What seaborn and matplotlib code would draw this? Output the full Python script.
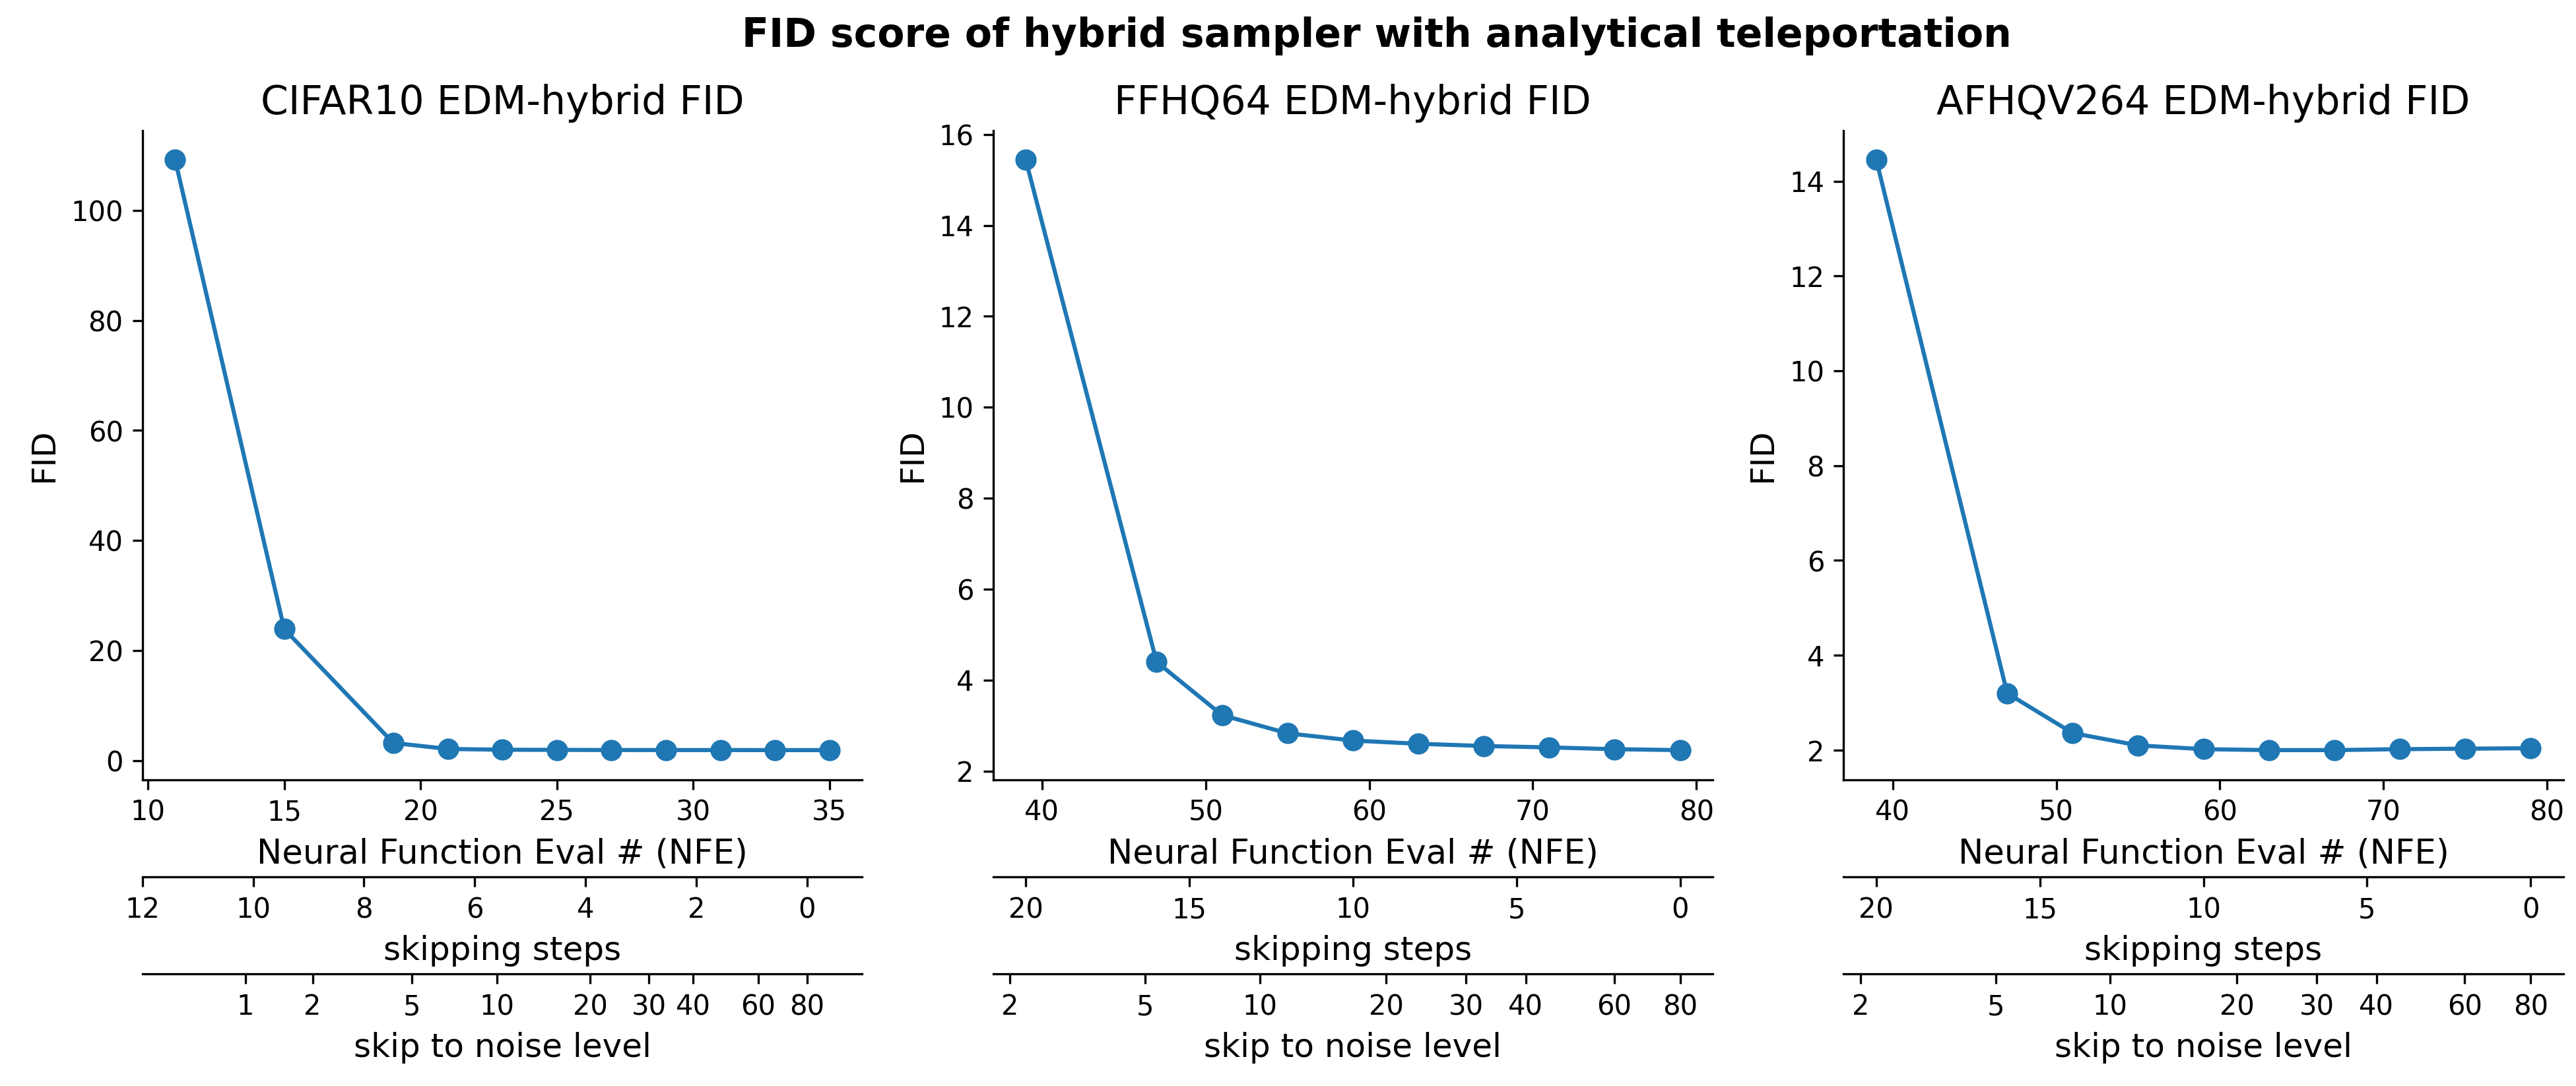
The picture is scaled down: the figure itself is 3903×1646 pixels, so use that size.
import numpy as np
import pandas as pd
import matplotlib
matplotlib.use('Agg')
import matplotlib.pyplot as plt
import seaborn as sns

# FID vs NFE
cifar_nfe = [11, 15, 19, 21, 23, 25, 27, 29, 31, 33, 35]
cifar_fid = [109.2, 23.9, 3.2, 2.1, 1.96, 1.93, 1.91, 1.90, 1.90, 1.89, 1.89]

ffhq_nfe = [39, 47, 51, 55, 59, 63, 67, 71, 75, 79]
ffhq_fid = [15.44, 4.40, 3.23, 2.83, 2.67, 2.60, 2.55, 2.52, 2.48, 2.46]

afhq_nfe = [39, 47, 51, 55, 59, 63, 67, 71, 75, 79]
afhq_fid = [14.45, 3.20, 2.36, 2.10, 2.02, 2.00, 2.00, 2.02, 2.03, 2.04]

titles = ['CIFAR10 EDM-hybrid FID', 'FFHQ64 EDM-hybrid FID', 'AFHQV264 EDM-hybrid FID']
n_steps = [18, 40, 40]               # EDM sampler steps per dataset
skip_lims = [(12, -1), (21, -1), (21, -1)]
skip_ticks = [list(range(12, -1, -2)), list(range(20, -1, -5)), list(range(20, -1, -5))]
noise_ticks = [1, 2, 5, 10, 20, 30, 40, 60, 80]

SIGMA_MIN, SIGMA_MAX, RHO = 0.002, 80.0, 7.0


def sigma_at(step, n):
    a = SIGMA_MAX ** (1 / RHO)
    b = SIGMA_MIN ** (1 / RHO)
    return (a + step / (n - 1) * (b - a)) ** RHO


def fwd(s):
    s = np.asarray(s, dtype=float)
    return np.sign(s) * np.abs(s) ** (1 / RHO)


def inv(x):
    x = np.asarray(x, dtype=float)
    return np.sign(x) * np.abs(x) ** RHO


data = [(cifar_nfe, cifar_fid), (ffhq_nfe, ffhq_fid), (afhq_nfe, afhq_fid)]

fig, axes = plt.subplots(1, 3, figsize=(13.01, 5.487))
fig.subplots_adjust(left=0.0553, right=0.9951, bottom=0.2821, top=0.8799, wspace=0.1817)

for i, ax in enumerate(axes):
    nfe, fid = data[i]
    df = pd.DataFrame({'NFE': nfe, 'FID': fid})
    sns.lineplot(data=df, x='NFE', y='FID', ax=ax, color='#1f77b4', marker='o',
                 markersize=7, markeredgecolor='#1f77b4', linewidth=1.5)
    ax.set_title(titles[i], fontsize=14.4)
    ax.set_xlabel('Neural Function Eval # (NFE)', fontsize=12.3)
    ax.set_ylabel('FID', fontsize=12)
    ax.tick_params(labelsize=10)
    sns.despine(ax=ax)

    # skipping steps axis
    ax2 = ax.twiny()
    ax2.set_xticks(skip_ticks[i])
    ax2.set_xlim(skip_lims[i])
    ax2.xaxis.set_ticks_position('bottom')
    ax2.xaxis.set_label_position('bottom')
    ax2.spines['bottom'].set_position(('outward', 35.35))
    for s in ['top', 'left', 'right']:
        ax2.spines[s].set_visible(False)
    ax2.set_xlabel('skipping steps', fontsize=12)
    ax2.tick_params(labelsize=10)

    # skip to noise level axis
    ax3 = ax.twiny()
    ax3.set_xscale('function', functions=(fwd, inv))
    ax3.set_xticks(noise_ticks)
    ax3.set_xticklabels([str(t) for t in noise_ticks])
    ax3.xaxis.set_minor_locator(matplotlib.ticker.NullLocator())
    ax3.set_xlim(sigma_at(skip_lims[i][0], n_steps[i]), sigma_at(skip_lims[i][1], n_steps[i]))
    ax3.xaxis.set_ticks_position('bottom')
    ax3.xaxis.set_label_position('bottom')
    ax3.spines['bottom'].set_position(('outward', 70.7))
    for s in ['top', 'left', 'right']:
        ax3.spines[s].set_visible(False)
    ax3.set_xlabel('skip to noise level', fontsize=12)
    ax3.tick_params(labelsize=10)

fig.suptitle('FID score of hybrid sampler with analytical teleportation',
             fontsize=14.4, fontweight='bold', x=0.5345, y=0.985)

fig.savefig('out.png', dpi=300)
